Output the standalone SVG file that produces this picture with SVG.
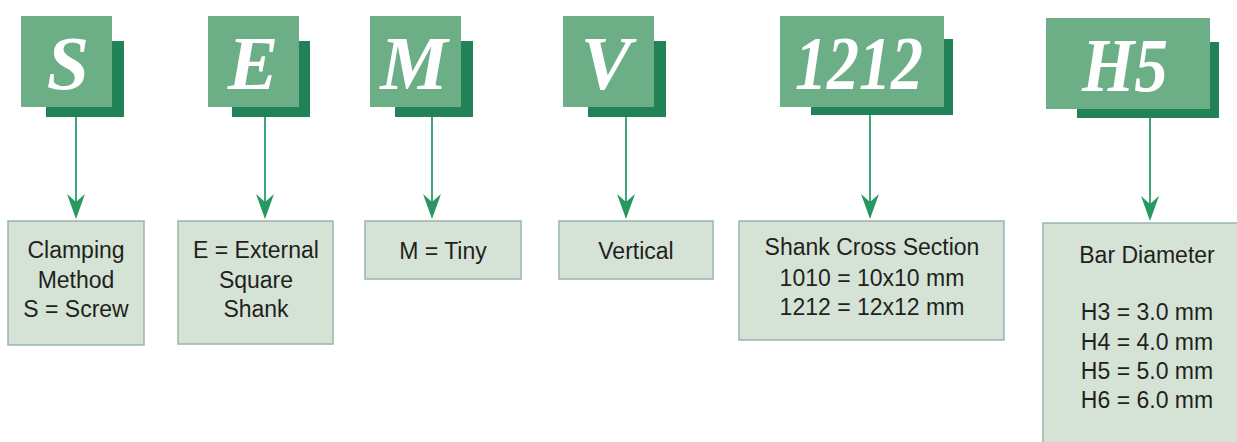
<svg xmlns="http://www.w3.org/2000/svg" width="1237" height="442" viewBox="0 0 1237 442">
<style>
.hd{fill:#6caf87}
.sh{fill:#218157}
.code{font-family:"Liberation Serif",serif;font-weight:bold;font-style:italic;font-size:76px;fill:#fff;text-anchor:middle}
.bx{fill:#d5e3d7;stroke:#9bb4ab;stroke-width:1.5}
.lb{font-family:"Liberation Sans",sans-serif;font-size:23px;fill:#231f20;text-anchor:middle}
.ln{stroke:#3fa775;stroke-width:2;fill:none}
.ah{fill:#27985f}
</style>
<rect width="1237" height="442" fill="#fff"/>
<g id="connectors">
<line class="ln" x1="76" y1="117" x2="76" y2="205"/>
<path class="ah" d="M67,194 L76,202 L85,194 L76,219 Z"/>
<line class="ln" x1="265" y1="117" x2="265" y2="205"/>
<path class="ah" d="M256,194 L265,202 L274,194 L265,219 Z"/>
<line class="ln" x1="432" y1="117" x2="432" y2="205"/>
<path class="ah" d="M423,194 L432,202 L441,194 L432,219 Z"/>
<line class="ln" x1="626" y1="117" x2="626" y2="205"/>
<path class="ah" d="M617,194 L626,202 L635,194 L626,219 Z"/>
<line class="ln" x1="870" y1="115" x2="870" y2="205"/>
<path class="ah" d="M861,194 L870,202 L879,194 L870,219 Z"/>
<line class="ln" x1="1150" y1="118" x2="1150" y2="207"/>
<path class="ah" d="M1141,196 L1150,204 L1159,196 L1150,221 Z"/>
</g>
<g id="code-S">
<rect class="sh" x="46" y="41" width="78" height="76"/>
<rect class="hd" x="21" y="16" width="91" height="91"/>
<text class="code" x="68" y="89">S</text>
</g>
<g id="code-E">
<rect class="sh" x="232" y="41" width="78" height="76"/>
<rect class="hd" x="208" y="16" width="91" height="91"/>
<text class="code" x="253" y="89">E</text>
</g>
<g id="code-M">
<rect class="sh" x="395" y="41" width="78" height="76"/>
<rect class="hd" x="370" y="16" width="91" height="91"/>
<text class="code" x="414" y="89">M</text>
</g>
<g id="code-V">
<rect class="sh" x="588" y="41" width="78" height="76"/>
<rect class="hd" x="563" y="16" width="91" height="91"/>
<text class="code" x="606" y="89">V</text>
</g>
<g id="code-1212">
<rect class="sh" x="811" y="39" width="142" height="76"/>
<rect class="hd" x="780" y="16" width="164" height="91"/>
<text class="code" x="859" y="89" textLength="128" lengthAdjust="spacingAndGlyphs">1212</text>
</g>
<g id="code-H5">
<rect class="sh" x="1077" y="42" width="142" height="76"/>
<rect class="hd" x="1046" y="18" width="164" height="91"/>
<text class="code" x="1125" y="91" textLength="86" lengthAdjust="spacingAndGlyphs">H5</text>
</g>
<g id="desc-S">
<rect class="bx" x="8" y="221" width="136" height="124"/>
<text class="lb" x="76" y="258">Clamping</text>
<text class="lb" x="76" y="288">Method</text>
<text class="lb" x="76" y="317">S = Screw</text>
</g>
<g id="desc-E">
<rect class="bx" x="178" y="221" width="155" height="123"/>
<text class="lb" x="256" y="258">E = External</text>
<text class="lb" x="256" y="288">Square</text>
<text class="lb" x="256" y="317">Shank</text>
</g>
<g id="desc-M">
<rect class="bx" x="365" y="221" width="156" height="58"/>
<text class="lb" x="443" y="259">M = Tiny</text>
</g>
<g id="desc-V">
<rect class="bx" x="559" y="221" width="154" height="58"/>
<text class="lb" x="636" y="259">Vertical</text>
</g>
<g id="desc-1212">
<rect class="bx" x="739" y="221" width="265" height="119"/>
<text class="lb" x="872" y="255">Shank Cross Section</text>
<text class="lb" x="872" y="286">1010 = 10x10 mm</text>
<text class="lb" x="872" y="315">1212 = 12x12 mm</text>
</g>
<g id="desc-H5">
<rect class="bx" x="1043" y="223" width="200" height="225"/>
<text class="lb" x="1147" y="263">Bar Diameter</text>
<text class="lb" x="1147" y="320">H3 = 3.0 mm</text>
<text class="lb" x="1147" y="350">H4 = 4.0 mm</text>
<text class="lb" x="1147" y="379">H5 = 5.0 mm</text>
<text class="lb" x="1147" y="408">H6 = 6.0 mm</text>
</g>
</svg>
